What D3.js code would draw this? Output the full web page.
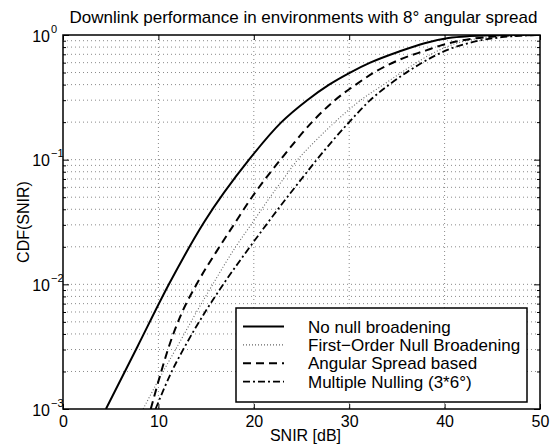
<!DOCTYPE html>
<html>
<head>
<meta charset="utf-8">
<script src="https://cdn.jsdelivr.net/npm/d3@7"></script>
<style>
  html, body { margin: 0; padding: 0; background: #fff; }
  svg { display: block; font-family: "Liberation Sans", Arial, Helvetica, sans-serif; }
</style>
</head>
<body>
<svg id="chart" width="557" height="445"></svg>
<script>
// ---- data ----
const titleText = "Downlink performance in environments with 8\u00B0 angular spread";
const xLabel = "SNIR [dB]";
const yLabel = "CDF(SNIR)";
const xTicks = [0, 10, 20, 30, 40, 50];
const yDecades = [1e-3, 1e-2, 1e-1, 1];
const yExponents = ["\u22123", "\u22122", "\u22121", "0"];

const seriesNames = [
  "No null broadening",
  "First\u2212Order Null Broadening",
  "Angular Spread based",
  "Multiple Nulling (3*6\u00B0)"
];

// No null broadening (solid)
const noNullSnir = [4.5, 7.8, 11.1, 14.8, 19.5, 22.9, 25.6, 27.9, 30.1, 32.2, 35.3, 37.9, 40.4, 42.6, 44.8, 47, 50];
const noNullCdf  = [0.001, 0.00316, 0.01, 0.0316, 0.1, 0.2, 0.3, 0.4, 0.5, 0.6, 0.74, 0.86, 0.946, 0.98, 0.995, 1.0, 1.0];

// First-Order Null Broadening (dotted)
const firstOrderSnir = [8.4, 10.5, 11.8, 14.0, 15.7, 18.1, 19.7, 21.7, 23.1, 24.6, 26.4, 28.5, 31.2, 33.6, 36.4, 38.7, 41.3, 44.0, 47.0, 50];
const firstOrderCdf  = [0.001, 0.002, 0.003, 0.006, 0.01, 0.02, 0.03, 0.05, 0.07, 0.1, 0.14, 0.2, 0.3, 0.4, 0.557, 0.71, 0.86, 0.95, 0.99, 1.0];

// Angular Spread based (dashed)
const angularSnir = [9.2, 10.3, 11.0, 12.5, 14.0, 16.4, 17.9, 19.8, 21.2, 22.8, 26.1, 28.5, 30.7, 32.6, 35.2, 38.0, 39.7, 42.8, 45.8, 48.0, 50];
const angularCdf  = [0.001, 0.002, 0.003, 0.006, 0.01, 0.02, 0.03, 0.05, 0.07, 0.1, 0.2, 0.3, 0.4, 0.5, 0.63, 0.75, 0.83, 0.93, 0.98, 0.995, 1.0];

// Multiple Nulling (dash-dot)
const multiSnir = [9.7, 11.4, 12.6, 14.9, 16.8, 19.6, 21.3, 23.5, 25.0, 26.6, 30.0, 32.2, 34.2, 37.5, 40.3, 43.0, 46.0, 48.5, 50];
const multiCdf  = [0.001, 0.002, 0.003, 0.006, 0.01, 0.02, 0.03, 0.05, 0.07, 0.1, 0.2, 0.3, 0.4, 0.59, 0.76, 0.88, 0.96, 0.99, 1.0];

// ---- layout ----
const svg = d3.select("#chart");
const plot = { left: 63, right: 540, top: 35, bottom: 409 };

const x = d3.scaleLinear().domain([0, 50]).range([plot.left, plot.right]);
const y = d3.scaleLog().domain([1e-3, 1]).range([plot.bottom, plot.top]);

const styles = [
  { stroke: "#000", width: 2, dash: null },
  { stroke: "#666", width: 1.1, dash: "1,2" },
  { stroke: "#000", width: 2, dash: "8,5" },
  { stroke: "#000", width: 1.8, dash: "7,3,2,3" }
];
const series = [
  { snir: noNullSnir, cdf: noNullCdf },
  { snir: firstOrderSnir, cdf: firstOrderCdf },
  { snir: angularSnir, cdf: angularCdf },
  { snir: multiSnir, cdf: multiCdf }
];

// clip
svg.append("defs").append("clipPath").attr("id", "clip")
  .append("rect")
  .attr("x", plot.left).attr("y", plot.top)
  .attr("width", plot.right - plot.left).attr("height", plot.bottom - plot.top);

// grid
const grid = svg.append("g");
const minorY = y.ticks().filter(v => v > 1e-3 * 1.0001 && v < 0.9999);
grid.selectAll("line.h").data(minorY).enter().append("line")
  .attr("x1", plot.left).attr("x2", plot.right)
  .attr("y1", d => y(d)).attr("y2", d => y(d))
  .attr("stroke", "#8a8a8a").attr("stroke-width", 1).attr("stroke-dasharray", "1,3");
grid.selectAll("line.v").data(xTicks.slice(1, -1)).enter().append("line")
  .attr("y1", plot.top).attr("y2", plot.bottom)
  .attr("x1", d => x(d)).attr("x2", d => x(d))
  .attr("stroke", "#8a8a8a").attr("stroke-width", 1).attr("stroke-dasharray", "1,3");

// curves
const line = d3.line().x(d => x(d[0])).y(d => y(d[1])).curve(d3.curveMonotoneX);
const curves = svg.append("g").attr("clip-path", "url(#clip)");
series.forEach((s, i) => {
  const pts = s.snir.map((v, k) => [v, s.cdf[k]]);
  curves.append("path")
    .attr("d", line(pts))
    .attr("fill", "none")
    .attr("stroke", styles[i].stroke)
    .attr("stroke-width", styles[i].width)
    .attr("stroke-dasharray", styles[i].dash)
    .attr("stroke-linejoin", "round");
});

// axes
const fontTick = 16;
const xAxisB = d3.axisBottom(x).tickValues(xTicks).tickFormat(d3.format("d")).tickSizeInner(-5).tickSizeOuter(0).tickPadding(7);
const gxb = svg.append("g").attr("transform", `translate(0,${plot.bottom})`).call(xAxisB);
gxb.select(".domain").remove();
gxb.selectAll("text").attr("font-size", fontTick).attr("fill", "#000").attr("font-family", "Liberation Sans, Arial, sans-serif");
gxb.selectAll("line").attr("stroke", "#000");

const xAxisT = d3.axisTop(x).tickValues(xTicks).tickFormat("").tickSizeInner(-5).tickSizeOuter(0);
const gxt = svg.append("g").attr("transform", `translate(0,${plot.top})`).call(xAxisT);
gxt.select(".domain").remove();
gxt.selectAll("line").attr("stroke", "#000");

// y axis major ticks with superscript labels
const yAxisL = d3.axisLeft(y).tickValues(yDecades).tickFormat(() => "").tickSizeInner(-6).tickSizeOuter(0);
const gyl = svg.append("g").attr("transform", `translate(${plot.left},0)`).call(yAxisL);
gyl.select(".domain").remove();
gyl.selectAll("line").attr("stroke", "#000");
gyl.selectAll(".tick").each(function(d, i) {
  const g = d3.select(this);
  g.select("text").remove();
  g.append("text").attr("x", -13).attr("y", 6).attr("text-anchor", "end")
    .attr("font-size", fontTick).attr("fill", "#000").text("10");
  g.append("text").attr("x", -12).attr("y", -3).attr("text-anchor", "start")
    .attr("font-size", 11).attr("fill", "#000").text(yExponents[yDecades.indexOf(d)]);
});
const yAxisR = d3.axisRight(y).tickValues(yDecades).tickFormat("").tickSizeInner(-6).tickSizeOuter(0);
const gyr = svg.append("g").attr("transform", `translate(${plot.right},0)`).call(yAxisR);
gyr.select(".domain").remove();
gyr.selectAll("line").attr("stroke", "#000");

// minor y ticks
const minorOnly = y.ticks().filter(v => yDecades.every(dv => Math.abs(v / dv - 1) > 1e-6));
const yMinL = d3.axisLeft(y).tickValues(minorOnly).tickFormat("").tickSizeInner(-3).tickSizeOuter(0);
const gml = svg.append("g").attr("transform", `translate(${plot.left},0)`).call(yMinL);
gml.select(".domain").remove(); gml.selectAll("line").attr("stroke", "#000");
const yMinR = d3.axisRight(y).tickValues(minorOnly).tickFormat("").tickSizeInner(-3).tickSizeOuter(0);
const gmr = svg.append("g").attr("transform", `translate(${plot.right},0)`).call(yMinR);
gmr.select(".domain").remove(); gmr.selectAll("line").attr("stroke", "#000");

// box
svg.append("rect")
  .attr("x", plot.left).attr("y", plot.top)
  .attr("width", plot.right - plot.left).attr("height", plot.bottom - plot.top)
  .attr("fill", "none").attr("stroke", "#000").attr("stroke-width", 1.5);

// labels
svg.append("text").attr("x", (plot.left + plot.right) / 2 + 2).attr("y", 23)
  .attr("text-anchor", "middle").attr("font-size", 17).attr("fill", "#000").text(titleText);
svg.append("text").attr("x", (plot.left + plot.right) / 2 + 4).attr("y", 441)
  .attr("text-anchor", "middle").attr("font-size", fontTick).attr("fill", "#000").text(xLabel);
svg.append("text").attr("transform", `translate(29,${(plot.top + plot.bottom) / 2}) rotate(-90)`)
  .attr("text-anchor", "middle").attr("font-size", fontTick).attr("fill", "#000").text(yLabel);

// legend
const leg = svg.append("g");
leg.append("rect").attr("x", 236).attr("y", 308).attr("width", 291).attr("height", 94)
  .attr("fill", "#fff").attr("stroke", "#000").attr("stroke-width", 1.5);
seriesNames.forEach((name, i) => {
  const cy = 326.5 + i * 18.4;
  leg.append("line").attr("x1", 243).attr("x2", 284).attr("y1", cy).attr("y2", cy)
    .attr("stroke", styles[i].stroke).attr("stroke-width", styles[i].width)
    .attr("stroke-dasharray", styles[i].dash);
  leg.append("text").attr("x", 308).attr("y", cy + 6).attr("font-size", 17)
    .attr("fill", "#000").text(name);
});
</script>
</body>
</html>
